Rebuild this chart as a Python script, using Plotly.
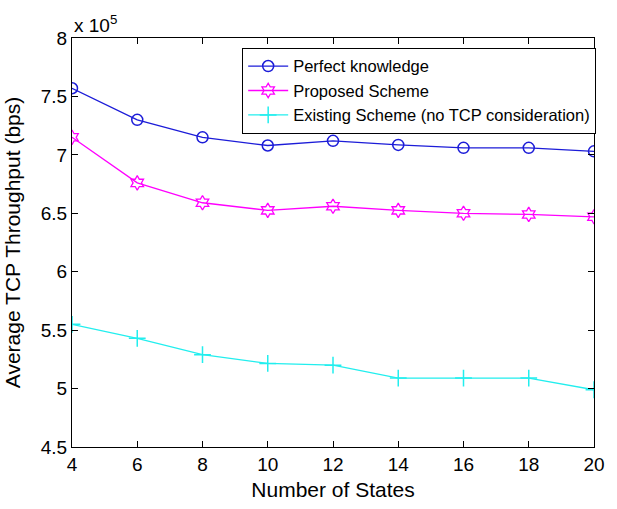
import plotly.graph_objects as go

states = [4, 6, 8, 10, 12, 14, 16, 18, 20]
perfect = [7.57, 7.30, 7.15, 7.08, 7.12, 7.085, 7.06, 7.06, 7.03]
proposed = [7.15, 6.76, 6.59, 6.525, 6.56, 6.525, 6.50, 6.49, 6.47]
existing = [5.55, 5.43, 5.29, 5.215, 5.20, 5.09, 5.09, 5.09, 4.99]
yticks = [4.5, 5, 5.5, 6, 6.5, 7, 7.5, 8]
xticks = [4, 6, 8, 10, 12, 14, 16, 18, 20]

font = "Liberation Sans, Arial, sans-serif"
fig = go.Figure()
fig.add_trace(go.Scatter(x=states, y=perfect, mode="lines+markers", name="Perfect knowledge",
                         line=dict(color="#1c1cd8", width=1.3),
                         marker=dict(symbol="circle-open", size=11, color="#1c1cd8", line=dict(width=1.5))))
fig.add_trace(go.Scatter(x=states, y=proposed, mode="lines+markers", name="Proposed Scheme",
                         line=dict(color="#ff00ff", width=1.3),
                         marker=dict(symbol="hexagram-open", size=11, color="#ff00ff", line=dict(width=1.3))))
fig.add_trace(go.Scatter(x=states, y=existing, mode="lines+markers", name="Existing Scheme (no TCP consideration)",
                         line=dict(color="#22eeee", width=1.3),
                         marker=dict(symbol="cross-thin-open", size=12, color="#22eeee", line=dict(width=1.5, color="#22eeee"))))

axis_common = dict(showgrid=False, zeroline=False, showline=True, mirror="ticks", linecolor="black",
                   linewidth=1, ticks="inside", ticklen=6, tickcolor="black",
                   tickfont=dict(size=19, color="black", family=font), ticklabeloverflow="allow")
fig.update_xaxes(range=[4, 20], tickvals=xticks, ticktext=[str(v) for v in xticks],
                 title=dict(text="Number of States", font=dict(size=21, color="black", family=font), standoff=8),
                 **axis_common)
fig.update_yaxes(range=[4.5, 8], tickvals=yticks, ticktext=[f"{v:g}" for v in yticks],
                 title=dict(text="Average TCP Throughput (bps)", font=dict(size=21, color="black", family=font), standoff=14),
                 **axis_common)
fig.add_annotation(x=0, y=1, xref="paper", yref="paper", xanchor="left", yanchor="bottom", yshift=0,
                   text="x 10<sup>5</sup>", showarrow=False, font=dict(size=19, color="black", family=font))
fig.update_layout(width=617, height=509, margin=dict(l=72, r=14, t=38, b=55),
                  plot_bgcolor="white", paper_bgcolor="white", font=dict(family=font, color="black"),
                  legend=dict(x=0.326, y=0.976, xanchor="left", yanchor="top", bgcolor="white",
                              bordercolor="black", borderwidth=1, font=dict(size=16.5, family=font),
                              tracegroupgap=0, itemwidth=40))
fig.write_html("out.html")
